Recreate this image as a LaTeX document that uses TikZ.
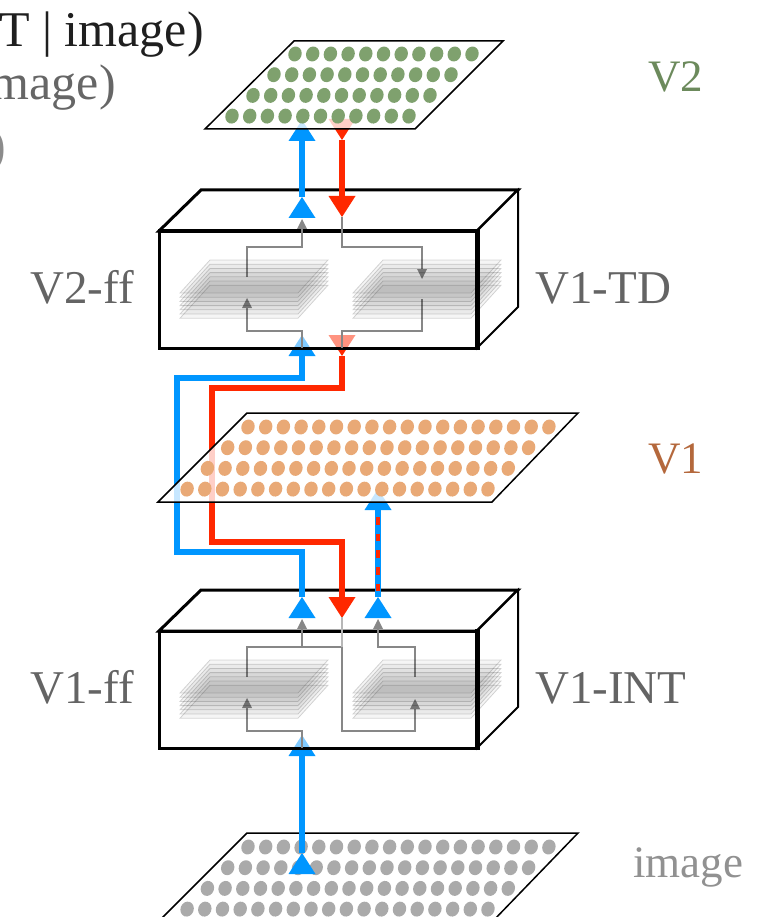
\documentclass[tikz,border=0pt]{standalone}
\usepackage{fontspec}
\setmainfont{Liberation Serif}
\usetikzlibrary{arrows.meta}
\definecolor{fblue}{RGB}{0,150,255}
\definecolor{fred}{RGB}{255,40,0}
\definecolor{dotgreen}{RGB}{127,161,110}
\definecolor{dotorange}{RGB}{233,169,118}
\definecolor{dotgray}{RGB}{170,170,170}
\definecolor{txtgray}{RGB}{100,100,100}
\definecolor{txtgreen}{RGB}{108,138,92}
\definecolor{txtorange}{RGB}{180,104,60}
\definecolor{txtlight}{RGB}{145,145,145}
\definecolor{wiregray}{RGB}{135,135,135}
\tikzset{
  flowwire/.style={line width=5.5pt, arrows={Triangle[reversed,length=21pt,width=27pt,line width=0pt]-Triangle[length=21pt,width=27pt,line width=0pt]}},
  bluewire/.style={flowwire, draw=fblue},
  redwire/.style={flowwire, draw=fred},
  reddash/.style={draw=fred, line width=3.6pt, dash pattern=on 7.5pt off 9.2pt, shorten <=28pt, shorten >=23pt},
  innerwire/.style={draw=wiregray, line width=2pt},
  innertip/.style={-{Triangle[length=10pt,width=10pt,line width=0pt]}},
  boxedge/.style={draw=black, line width=3pt, line join=miter},
  planeedge/.style={draw=black, line width=1.5pt, line join=miter},
  sidelabel/.style={font=\fontsize{47}{50}\selectfont, text=txtgray, inner sep=0pt},
  planelabel/.style={font=\fontsize{45}{50}\selectfont, inner sep=0pt},
  toptext/.style={font=\fontsize{50}{54}\selectfont, inner sep=0pt},
}
\newcommand\dotgrid[5]{% x0 of top row, y0 of top row, dots per row, colour, row shift
  \foreach \r in {0,...,3} {
    \foreach \c in {1,...,#3} {
      \fill[#4] ({#1-\r*#5+(\c-1)*17.7},{#2+\r*20.7}) ellipse [x radius=6.6pt, y radius=7.6pt, rotate=-20];
    }
  }
}
\newcommand\layerstack[2]{% x of left corner, y of top edge
  \foreach \k in {0,...,6} {
    \filldraw[fill=black, fill opacity=0.04, draw=black, draw opacity=0.16, line width=0.8pt]
      ({#1+30},{#2+4.2*\k}) -- ({#1+148},{#2+4.2*\k}) -- ({#1+118},{#2+33+4.2*\k}) -- ({#1},{#2+33+4.2*\k}) -- cycle;
  }
}
\newcommand\boxbackfaces{%
  \filldraw[boxedge, fill=white] (159,231) -- (201,190) -- (518,190) -- (477,231) -- cycle;
  \filldraw[boxedge, fill=white, line width=2pt] (477,231) -- (518,190) -- (518,307) -- (477,348) -- cycle;
}
\newcommand\boxfrontface{%
  \filldraw[boxedge, fill=white, fill opacity=0.5] (159,231) rectangle (477,348);
  \draw[line width=5pt] (477,229) -- (477,350);
}
\begin{document}
\begin{tikzpicture}[x=1pt,y=-1pt]
\useasboundingbox (0,0) rectangle (772,917);
\clip (0,0) rectangle (772,917);

% ports
\coordinate (imgOut) at (302,874);
\coordinate (v1ffIn) at (302,735);
\coordinate (v1ffOut) at (302,618);
\coordinate (v1intIn) at (342,618);
\coordinate (v1intOut) at (378,618);
\coordinate (v1In) at (378,489);
\coordinate (v2ffIn) at (302,335);
\coordinate (v1tdOut) at (342,335);
\coordinate (v2ffOut) at (302,218);
\coordinate (v1tdIn) at (342,217);
\coordinate (v2In) at (302,120);
\coordinate (v2Out) at (342,119);

% image plane
\filldraw[planeedge, fill=white] (158,922) -- (492,922) -- (578,833) -- (247,833) -- cycle;
\dotgrid{248}{847}{18}{dotgray}{20.3}

% box back faces
\boxbackfaces
\begin{scope}[shift={(0,400)}]\boxbackfaces\end{scope}

% coloured connectors
\draw[bluewire] (imgOut) -- (v1ffIn);
\draw[bluewire] (v1ffOut) -- ++(0,-66) -| (177,378) -| (v2ffIn);
\draw[redwire] (v1tdOut) -- ++(0,53) -| (212,542) -| (v1intIn);
\draw[bluewire] (v2ffOut) -- (v2In);
\draw[redwire] (v2Out) -- (v1tdIn);
\draw[bluewire] (v1intOut) -- (v1In);
\draw[reddash] (v1In) -- (v1intOut);

% box front faces
\boxfrontface
\begin{scope}[shift={(0,400)}]\boxfrontface\end{scope}

% inner wiring, upper box (V2-ff / V1-TD)
\draw[innerwire, innertip] (302,348) |- (247,331) -- (247,298);
\draw[innerwire, innertip] (247,277) |- (302,247) -- (302,219);
\draw[innerwire, innertip] (342,217) |- (422,247) -- (422,279);
\draw[innerwire] (422,299) |- (342,331) -- (342,348);
% inner wiring, lower box (V1-ff / V1-INT)
\draw[innerwire, innertip] (302,748) |- (247,731) -- (247,698);
\draw[innerwire, innertip] (247,677) |- (302,647) -- (302,619);
\draw[innerwire, innertip] (302,647) -- (342,647) -- (342,731) -| (415,699);
\draw[draw=wiregray!60, line width=1.3pt] (342,617) -- (342,647);
\draw[innerwire, innertip] (415,677) |- (378,647) -- (378,619);

% feature-map stacks
\layerstack{180}{260}
\layerstack{353}{260}
\layerstack{180}{660}
\layerstack{353}{660}

% V1 plane
\filldraw[planeedge, fill=white, fill opacity=0.78] (158,502) -- (492,502) -- (578,413) -- (247,413) -- cycle;
\dotgrid{248}{427}{18}{dotorange}{20.3}
% V2 plane
\filldraw[planeedge, fill=white, fill opacity=0.78] (205,129) -- (415,129) -- (503,41) -- (294,41) -- cycle;
\dotgrid{295}{54}{11}{dotgreen}{21}

% labels
\node[sidelabel, anchor=base west] (lblV2ff) at (30,303) {V2-ff};
\node[sidelabel, anchor=base west] (lblV1TD) at (535,303) {V1-TD};
\node[sidelabel, anchor=base west] (lblV1ff) at (30,703) {V1-ff};
\node[sidelabel, anchor=base west] (lblV1INT) at (535,703) {V1-INT};
\node[planelabel, anchor=base west, text=txtgreen] (lblV2) at (648,92) {V2};
\node[planelabel, anchor=base west, text=txtorange] (lblV1) at (648,473) {V1};
\node[planelabel, anchor=base west, text=txtlight] (lblImg) at (633,877) {image};
\node[toptext, anchor=base east, text=black!88] (topA) at (204,47) {T | image)};
\node[toptext, anchor=base east, text=black!60] (topB) at (116,100) {mage)};
\node[toptext, anchor=base east, text=black!45] (topC) at (6,163) {)};
\end{tikzpicture}
\end{document}
